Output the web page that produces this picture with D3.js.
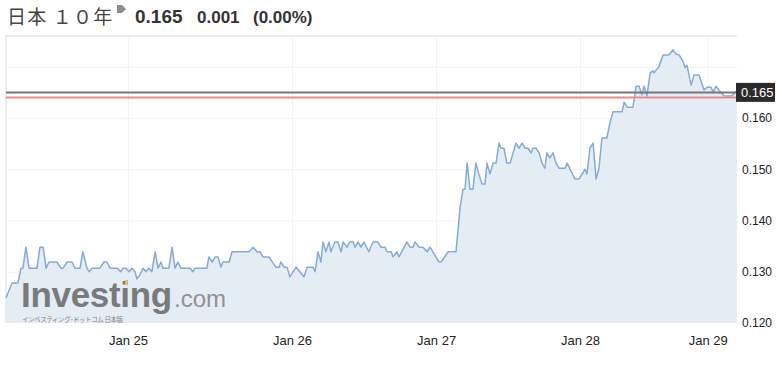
<html lang="ja">
<head>
  <meta charset="UTF-8"/>
  <title>日本 10年</title>
  <script src="https://d3js.org/d3.v7.min.js"></script>
</head>
<style>
body {
  margin: 0;
  background: #fff;
  font-family: 'Liberation Sans', Arial, sans-serif;
}

svg {
  display: block;
}

.grid line {
  stroke: #f2f2f5;
  stroke-width: 1;
}

.axis text {
  font-size: 12px;
  fill: #222;
}

.xaxis text {
  font-size: 13px;
}

text.title {
  font-family: 'Noto Sans CJK JP', sans-serif;
  font-size: 19px;
  letter-spacing: 1.2px;
  fill: #444;
}

text.quote {
  font-weight: bold;
  fill: #333;
}
</style>
<body>
<svg width="782" height="365"></svg>
<script>
    // sample number along the x axis (trading ticks, weekends collapsed)
    const sampleIdx = [
      0,2.1,4.1,5.1,5.8,6.8,7.9,10.6,11.6,12.7,
      13.7,14.7,17.4,18.8,19.5,20.9,22.6,23.6,25.3,26.3,
      27.7,28.4,29.4,32.1,33.5,34.5,35.6,38.0,39.3,40.0,
      41.0,42.1,43.1,44.1,44.8,45.8,46.9,47.9,48.9,49.9,
      51.0,52.0,53.0,53.7,55.7,56.8,57.8,58.8,59.8,62.9,
      63.9,64.6,68.7,69.4,70.5,71.5,72.5,73.5,74.2,76.3,
      77.3,83.1,84.5,85.8,86.9,87.9,89.9,92.3,93.4,94.0,
      95.1,96.1,97.1,99.2,100.5,101.9,103.0,105.0,105.7,106.7,
      107.7,108.4,109.4,110.5,111.1,112.5,113.5,114.6,115.3,116.6,
      117.6,118.7,119.4,120.4,121.4,122.4,124.1,125.5,127.2,128.2,
      129.6,130.3,131.7,132.4,133.7,134.4,137.1,138.2,139.2,139.9,
      141.2,142.6,144.0,145.0,148.1,148.8,151.2,153.9,155.3,156.3,
      157.0,157.7,158.7,159.7,160.7,161.8,162.8,163.8,164.5,165.5,
      166.6,167.6,168.6,169.3,170.3,171.3,172.4,174.4,175.4,176.5,
      177.5,178.5,179.6,180.2,181.3,182.3,183.3,184.3,185.0,186.0,
      187.1,188.1,189.1,191.2,191.9,194.6,196.0,198.0,198.7,199.7,
      200.8,201.8,202.8,203.8,205.5,206.6,207.6,210.7,211.4,212.4,
      214.4,215.5,216.5,217.5,218.2,219.2,220.3,221.3,221.6,223.3,
      224.7,226.7,228.1,229.1,230.2,231.5,232.2,232.9,234.3,235.3,
      237.0,238.7,239.8,241.1,241.8,242.8,244.5,245.6,248.3,249.3,
      250
    ];

    const yields = [
      0.1249,0.1278,0.1278,0.1307,0.1307,0.1348,0.1307,0.1307,0.1348,0.1348,
      0.1307,0.1319,0.1319,0.1307,0.1307,0.1319,0.1319,0.1307,0.1307,0.1339,
      0.1307,0.1300,0.1307,0.1307,0.1319,0.1319,0.1307,0.1307,0.1300,0.1307,
      0.1307,0.1300,0.1307,0.1300,0.1286,0.1294,0.1307,0.1300,0.1307,0.1300,
      0.1339,0.1307,0.1319,0.1307,0.1307,0.1348,0.1307,0.1319,0.1307,0.1307,
      0.1300,0.1307,0.1307,0.1329,0.1319,0.1329,0.1329,0.1309,0.1319,0.1319,
      0.1339,0.1339,0.1348,0.1339,0.1339,0.1329,0.1329,0.1309,0.1309,0.1319,
      0.1309,0.1309,0.1290,0.1309,0.1300,0.1290,0.1309,0.1309,0.1300,0.1339,
      0.1319,0.1358,0.1339,0.1358,0.1339,0.1358,0.1358,0.1339,0.1358,0.1348,
      0.1358,0.1358,0.1348,0.1358,0.1348,0.1358,0.1339,0.1358,0.1358,0.1348,
      0.1348,0.1339,0.1339,0.1329,0.1339,0.1329,0.1358,0.1348,0.1348,0.1358,
      0.1348,0.1348,0.1339,0.1348,0.1319,0.1319,0.1339,0.1339,0.1426,0.1461,
      0.1461,0.1512,0.1461,0.1461,0.1512,0.1489,0.1471,0.1471,0.1512,0.1491,
      0.1512,0.1512,0.1551,0.1541,0.1541,0.1512,0.1512,0.1551,0.1541,0.1551,
      0.1541,0.1541,0.1532,0.1541,0.1541,0.1532,0.1512,0.1502,0.1532,0.1522,
      0.1532,0.1512,0.1502,0.1502,0.1512,0.1481,0.1481,0.1500,0.1491,0.1541,
      0.1551,0.1481,0.1502,0.1561,0.1561,0.1592,0.1612,0.1612,0.1631,0.1621,
      0.1621,0.1662,0.1662,0.1645,0.1662,0.1643,0.1688,0.1692,0.1688,0.1700,
      0.1723,0.1723,0.1733,0.1725,0.1723,0.1711,0.1698,0.1703,0.1664,0.1684,
      0.1684,0.1655,0.1660,0.1660,0.1651,0.1662,0.1650,0.1643,0.1643,0.1651,
      0.165
    ];

    const dateTicks = [41.7, 97.8, 147.1, 196.3, 240.0];
    const dateLabels = ['Jan 25', 'Jan 26', 'Jan 27', 'Jan 28', 'Jan 29'];
    const yGridTicks = [0.130, 0.140, 0.150, 0.160, 0.170];
    const yLabelTicks = [0.120, 0.130, 0.140, 0.150, 0.160];

    const lastPrice = 0.165;
    const prevClose = 0.164;
    const change = '0.001';
    const changePct = '(0.00%)';

    const data = d3.zip(sampleIdx, yields).map(([i, v]) => ({ i, v }));

    const svg = d3.select('svg');
    const plot = { left: 6, right: 737, top: 36, bottom: 323 };

    const x = d3.scaleLinear()
      .domain([0, 250])
      .range([plot.left, plot.right]);

    const y = d3.scaleLinear()
      .domain([0.120, 0.176])
      .range([plot.bottom, plot.top]);

    // grid
    svg.append('g')
      .attr('class', 'grid')
      .attr('transform', `translate(${plot.left},0)`)
      .call(d3.axisLeft(y).tickValues(yGridTicks).tickSize(-(plot.right - plot.left)).tickFormat(''))
      .call(g => g.select('.domain').remove());

    svg.append('g')
      .attr('class', 'grid')
      .attr('transform', `translate(0,${plot.top})`)
      .call(d3.axisBottom(x).tickValues(dateTicks).tickSize(plot.bottom - plot.top).tickFormat(''))
      .call(g => g.select('.domain').remove());

    // frame
    svg.append('path')
      .attr('d', `M${plot.left},${plot.bottom}V${plot.top}H${plot.right}`)
      .attr('fill', 'none')
      .attr('stroke', '#ececf1')
      .attr('stroke-width', 2);

    // area + line
    svg.append('path')
      .datum(data)
      .attr('fill', '#e4edf4')
      .attr('d', d3.area().x(d => x(d.i)).y0(y(0.120)).y1(d => y(d.v)));

    // watermark
    const wm = svg.append('g').attr('opacity', 0.9);
    wm.append('text')
      .attr('x', 21)
      .attr('y', 307)
      .attr('font-size', 35)
      .attr('font-weight', 'bold')
      .attr('letter-spacing', -0.3)
      .attr('fill', '#6e6e6e')
      .text('Investing');
    wm.append('text')
      .attr('x', 174)
      .attr('y', 307)
      .attr('font-size', 24)
      .attr('fill', '#888')
      .text('.com');
    wm.append('rect')
      .attr('x', 125)
      .attr('y', 280)
      .attr('width', 3)
      .attr('height', 5)
      .attr('fill', '#e8b25a');
    wm.append('text')
      .attr('x', 22)
      .attr('y', 322)
      .attr('font-size', 6.5)
      .attr('font-family', "'Noto Sans CJK JP', sans-serif")
      .attr('textLength', 101)
      .attr('fill', '#777')
      .text('インベスティング･ドットコム 日本版');

    svg.append('path')
      .datum(data)
      .attr('fill', 'none')
      .attr('stroke', '#85aad9')
      .attr('stroke-width', 1.5)
      .attr('stroke-linejoin', 'round')
      .attr('d', d3.line().x(d => x(d.i)).y(d => y(d.v)));

    // last price / previous close lines
    svg.append('line')
      .attr('x1', plot.left).attr('x2', plot.right)
      .attr('y1', y(prevClose)).attr('y2', y(prevClose))
      .attr('stroke', '#e38f8c')
      .attr('stroke-width', 2);

    svg.append('line')
      .attr('x1', plot.left).attr('x2', plot.right)
      .attr('y1', y(lastPrice)).attr('y2', y(lastPrice))
      .attr('stroke', '#777')
      .attr('stroke-width', 2);

    // y axis labels
    svg.append('g')
      .attr('class', 'axis')
      .attr('transform', `translate(${plot.right},0)`)
      .call(d3.axisRight(y).tickValues(yLabelTicks).tickSize(0).tickPadding(5).tickFormat(d3.format('.3f')))
      .call(g => g.select('.domain').remove());

    // price tag
    svg.append('rect')
      .attr('x', 736)
      .attr('y', y(lastPrice) - 9.5)
      .attr('width', 39)
      .attr('height', 19)
      .attr('fill', '#2b2b2b');
    svg.append('text')
      .attr('x', 741)
      .attr('y', y(lastPrice) + 4.5)
      .attr('font-size', 13)
      .attr('fill', '#fff')
      .text(d3.format('.3f')(lastPrice));

    // x axis labels
    svg.append('g')
      .attr('class', 'axis xaxis')
      .attr('transform', `translate(0,${plot.bottom})`)
      .call(d3.axisBottom(x).tickValues(dateTicks).tickSize(0).tickPadding(13)
        .tickFormat((d, i) => dateLabels[i]))
      .call(g => g.select('.domain').remove());

    // header
    svg.append('text')
      .attr('class', 'title')
      .attr('x', 7)
      .attr('y', 24)
      .text('日本 １０年');

    svg.append('path')
      .attr('d', 'M117,5 L122,5 L126,9 L122,13 L117,13 Z')
      .attr('fill', '#8c8c8c');

    svg.append('text')
      .attr('class', 'quote')
      .attr('x', 135)
      .attr('y', 23)
      .attr('font-size', 19)
      .text(d3.format('.3f')(lastPrice));

    svg.append('text')
      .attr('class', 'quote')
      .attr('x', 197)
      .attr('y', 23)
      .attr('font-size', 17)
      .text(change);

    svg.append('text')
      .attr('class', 'quote')
      .attr('x', 253)
      .attr('y', 23)
      .attr('font-size', 17)
      .text(changePct);
</script>
</body>
</html>
